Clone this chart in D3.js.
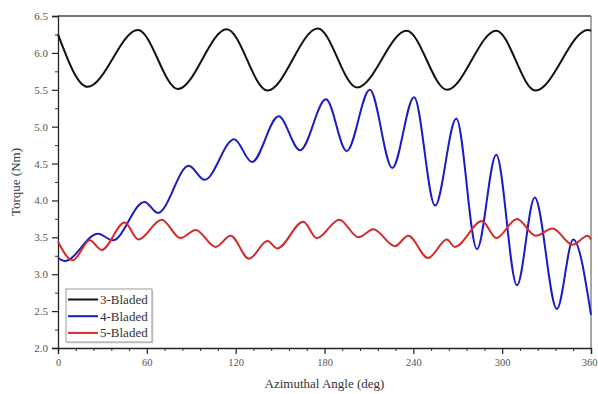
<!DOCTYPE html>
<html>
<head>
<meta charset="utf-8">
<script src="https://cdn.jsdelivr.net/npm/d3@7"></script>
<style>
  body { margin: 0; background: #fff; }
  svg { display: block; font-family: "Liberation Serif", "Times New Roman", serif; }
</style>
</head>
<body>
<div id="chart"></div>
<script>
// values: angle (deg) and torque (Nm) at the turning points of each curve
const angles3 = [0, 20, 54, 81, 114, 141.5, 175.5, 202, 235.5, 262.7, 296, 322.5, 358, 360];
const torque3 = [6.25, 5.54, 6.31, 5.51, 6.32, 5.49, 6.33, 5.53, 6.30, 5.50, 6.30, 5.49, 6.31, 6.30];

const angles4 = [0, 4.5, 27, 37, 58.4, 67.5, 88.3, 99, 119, 131, 149, 163.5, 181, 195, 210.6, 225.8, 240.5, 254.7, 269, 283, 296, 310, 322, 337, 348, 360];
const torque4 = [3.22, 3.18, 3.55, 3.46, 3.98, 3.83, 4.47, 4.28, 4.83, 4.52, 5.14, 4.68, 5.37, 4.67, 5.50, 4.44, 5.40, 3.93, 5.11, 3.34, 4.62, 2.85, 4.04, 2.53, 3.47, 2.45];

const angles5 = [0, 10, 21.5, 29.5, 45, 54.3, 70, 82.7, 93, 106.4, 116.6, 129, 141.5, 148, 165.7, 174.8, 190, 203, 213, 227.5, 236.6, 250, 262.7, 268, 286.4, 296, 310, 322.7, 334, 347.6, 357.8, 360];
const torque5 = [3.44, 3.19, 3.46, 3.33, 3.70, 3.47, 3.74, 3.49, 3.60, 3.37, 3.52, 3.21, 3.45, 3.35, 3.71, 3.49, 3.74, 3.50, 3.61, 3.38, 3.52, 3.22, 3.47, 3.37, 3.72, 3.49, 3.75, 3.52, 3.62, 3.40, 3.52, 3.47];

const seriesNames = ["3-Bladed", "4-Bladed", "5-Bladed"];
const seriesColors = ["#111111", "#1c1cc4", "#d42a2a"];

const xTicks = [0, 60, 120, 180, 240, 300, 360];
const yTicks = [2.0, 2.5, 3.0, 3.5, 4.0, 4.5, 5.0, 5.5, 6.0, 6.5];

const W = 598, H = 394;
const margin = { left: 58, right: 7, top: 16, bottom: 46 };

const svg = d3.select("#chart").append("svg")
  .attr("width", W)
  .attr("height", H);

const x = d3.scaleLinear().domain([0, 360]).range([margin.left, W - margin.right]);
const y = d3.scaleLinear().domain([2.0, 6.5]).range([H - margin.bottom, margin.top]);

// frame (top and right)
svg.append("line")
  .attr("x1", x(0)).attr("x2", x(360))
  .attr("y1", y(6.5)).attr("y2", y(6.5))
  .attr("stroke", "#444").attr("stroke-width", 1.3);
svg.append("line")
  .attr("x1", x(360)).attr("x2", x(360))
  .attr("y1", y(6.5)).attr("y2", y(2.0))
  .attr("stroke", "#777").attr("stroke-width", 1.3);

// minor ticks first so the major axis draws over them
const xMinor = d3.range(0, 361, 12).filter(v => v % 60 !== 0);
svg.append("g")
  .attr("transform", `translate(0,${y(2.0)})`)
  .call(d3.axisBottom(x).tickValues(xMinor).tickSize(3).tickFormat(""))
  .call(g => g.select(".domain").remove())
  .call(g => g.selectAll("line").attr("stroke", "#333"));

const yMinor = d3.range(2.25, 6.5, 0.5);
svg.append("g")
  .attr("transform", `translate(${x(0)},0)`)
  .call(d3.axisLeft(y).tickValues(yMinor).tickSize(3).tickFormat(""))
  .call(g => g.select(".domain").remove())
  .call(g => g.selectAll("line").attr("stroke", "#333"));

const xAxis = svg.append("g")
  .attr("transform", `translate(0,${y(2.0)})`)
  .call(d3.axisBottom(x).tickValues(xTicks).tickSize(6).tickPadding(5).tickFormat(d3.format("d")));
xAxis.select(".domain").attr("stroke", "#222").attr("stroke-width", 1.3);
xAxis.selectAll("line").attr("stroke", "#222").attr("stroke-width", 1.2);
xAxis.selectAll("text").attr("font-size", 10.5).attr("fill", "#555")
  .style("font-family", "Liberation Serif, serif");
// last label sits right at the page edge, keep it inside
xAxis.selectAll("text").filter(d => d === 360).attr("text-anchor", "end").attr("dx", 6);

const yAxis = svg.append("g")
  .attr("transform", `translate(${x(0)},0)`)
  .call(d3.axisLeft(y).tickValues(yTicks).tickSize(6).tickPadding(4).tickFormat(d3.format(".1f")));
yAxis.select(".domain").attr("stroke", "#222").attr("stroke-width", 1.3);
yAxis.selectAll("line").attr("stroke", "#222").attr("stroke-width", 1.2);
yAxis.selectAll("text").attr("font-size", 11).attr("fill", "#555")
  .style("font-family", "Liberation Serif, serif");

// axis titles
svg.append("text")
  .attr("x", (x(0) + x(360)) / 2)
  .attr("y", 388)
  .attr("text-anchor", "middle")
  .attr("font-size", 13)
  .attr("fill", "#333")
  .text("Azimuthal Angle (deg)");

svg.append("text")
  .attr("transform", `translate(20,${(y(2.0) + y(6.5)) / 2}) rotate(-90)`)
  .attr("text-anchor", "middle")
  .attr("font-size", 13)
  .attr("fill", "#333")
  .text("Torque (Nm)");

// curves
const series = [
  angles3.map((a, i) => [a, torque3[i]]),
  angles4.map((a, i) => [a, torque4[i]]),
  angles5.map((a, i) => [a, torque5[i]]),
];

const line = d3.line()
  .x(d => x(d[0]))
  .y(d => y(d[1]))
  .curve(d3.curveMonotoneX);

svg.append("g")
  .attr("class", "curves")
  .selectAll("path")
  .data(series)
  .join("path")
    .attr("d", line)
    .attr("fill", "none")
    .attr("stroke", (d, i) => seriesColors[i])
    .attr("stroke-width", 2)
    .attr("stroke-linejoin", "round");

// legend
const lg = svg.append("g").attr("transform", "translate(66,289)");
lg.append("rect")
  .attr("x", 1.5).attr("y", 1.5)
  .attr("width", 86).attr("height", 53)
  .attr("fill", "#ddd");
lg.append("rect")
  .attr("width", 86).attr("height", 53)
  .attr("fill", "#fff")
  .attr("stroke", "#999").attr("stroke-width", 1);

const rows = lg.selectAll("g.row")
  .data(seriesNames)
  .join("g")
    .attr("class", "row")
    .attr("transform", (d, i) => `translate(0,${10.5 + i * 16.7})`);
rows.append("line")
  .attr("x1", 2).attr("x2", 32)
  .attr("stroke", (d, i) => seriesColors[i])
  .attr("stroke-width", 2);
rows.append("text")
  .attr("x", 34)
  .attr("dy", "0.35em")
  .attr("font-size", 13)
  .attr("fill", "#333")
  .text(d => d);
</script>
</body>
</html>
